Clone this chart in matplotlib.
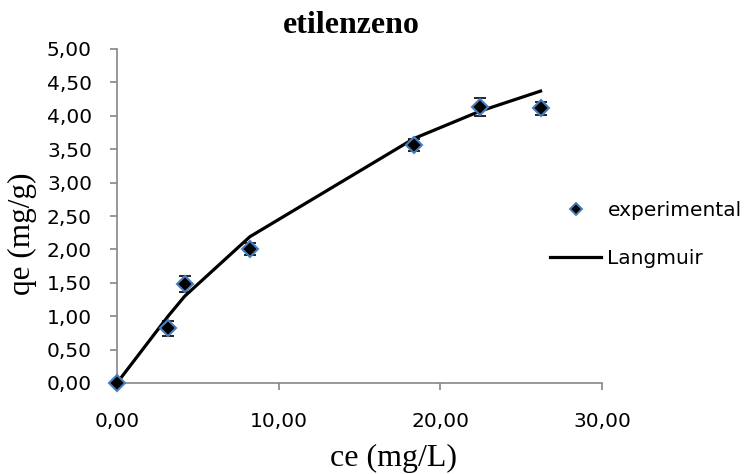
import numpy as np
import matplotlib
matplotlib.use("Agg")
import matplotlib.pyplot as plt
from matplotlib.ticker import FuncFormatter
from matplotlib.lines import Line2D

ce = [0.0, 3.16, 4.19, 8.22, 18.37, 22.46, 26.2]
qe = [0.0, 0.82, 1.48, 2.01, 3.56, 4.13, 4.11]
qe_err = [0.0, 0.11, 0.12, 0.09, 0.09, 0.13, 0.10]

# Langmuir fit at the same ce
qe_langmuir = [0.0, 1.00, 1.30, 2.19, 3.66, 4.07, 4.37]

x_ticks = [0, 10, 20, 30]
y_ticks = [0, 0.5, 1.0, 1.5, 2.0, 2.5, 3.0, 3.5, 4.0, 4.5, 5.0]

gray = '#868686'
sans = 'DejaVu Sans'
serif = 'Liberation Serif'
W, H = 755, 474

fig = plt.figure(figsize=(W / 100, H / 100), dpi=100)
ax = fig.add_axes([117/W, 1 - 383/H, (602 - 117)/W, (383 - 49)/H])

ax.plot(ce, qe_langmuir, color='black', lw=2.3, zorder=2)
ax.errorbar(ce, qe, yerr=qe_err, fmt='none', ecolor='black', elinewidth=1.2,
            capsize=4, capthick=1.2, zorder=3)
ax.plot(ce, qe, 'D', ms=8.5, mfc='black', mec='#4a7ebb', mew=1.5, zorder=4,
        clip_on=False)

ax.set_xlim(0, 30)
ax.set_ylim(0, 5)
ax.set_xticks(x_ticks)
ax.set_yticks(y_ticks)
fmt = FuncFormatter(lambda v, p: f"{v:.2f}".replace('.', ','))
ax.xaxis.set_major_formatter(fmt)
ax.yaxis.set_major_formatter(fmt)

for s in ['top', 'right']:
    ax.spines[s].set_visible(False)
for s in ['left', 'bottom']:
    ax.spines[s].set_color(gray)
    ax.spines[s].set_linewidth(1.2)

ax.tick_params(axis='both', direction='out', length=5, width=1.2, color=gray,
               labelsize=14.5)
ax.tick_params(axis='x', pad=16)
ax.tick_params(axis='y', pad=13)
for lab in ax.get_xticklabels() + ax.get_yticklabels():
    lab.set_fontfamily(sans)

fig.text(351/W, 1 - 33/H, 'etilenzeno', fontfamily=serif, fontweight='bold',
         fontsize=23, ha='center', va='baseline')
fig.text(22/W, 1 - 234/H, 'qe (mg/g)', fontfamily=serif, fontsize=22.5,
         rotation=90, ha='center', va='center')
fig.text(393/W, 1 - 458/H, 'ce (mg/L)', fontfamily=serif, fontsize=23,
         ha='center', va='center')

handles = [Line2D([], [], ls='none', marker='D', ms=6.5, mfc='black',
                  mec='#4a7ebb', mew=1.4),
           Line2D([], [], color='black', lw=2.3)]
ax.legend(handles, ['experimental', 'Langmuir'], loc='upper left',
          bbox_to_anchor=(550/W, 1 - 201/H), bbox_transform=fig.transFigure,
          frameon=False, borderpad=0, borderaxespad=0, handlelength=2.55,
          handletextpad=0.3, labelspacing=1.42,
          prop={'family': sans, 'size': 14.5})

fig.savefig('out.png', dpi=100)
